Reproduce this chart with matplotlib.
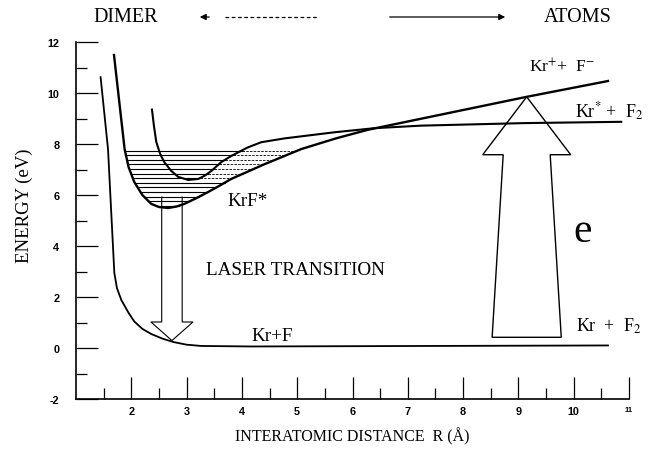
import numpy as np
import matplotlib
matplotlib.use("Agg")
import matplotlib.pyplot as plt
from matplotlib.patches import Polygon
from matplotlib.lines import Line2D

plt.rcParams["font.family"] = ["Liberation Serif", "DejaVu Serif"]
plt.rcParams["mathtext.fontset"] = "stix"
plt.rcParams["axes.unicode_minus"] = False

# potential curves: R in angstrom, energy in eV
# ground state Kr + F
ground_r = [1.445, 1.579, 1.64, 1.693, 1.74, 1.82, 1.95, 2.054, 2.2, 2.361, 2.56, 2.759, 3.0, 3.265, 4.17, 10.62]
ground_e = [10.62, 7.80, 5.2, 2.95, 2.35, 1.88, 1.38, 1.04, 0.75, 0.55, 0.37, 0.235, 0.13, 0.08, 0.06, 0.10]

# ionic KrF* curve, goes to Kr+ + F-
ionic_r = [1.687, 1.78, 1.879, 1.95, 2.054, 2.2, 2.361, 2.5, 2.669, 2.82, 2.958, 3.17, 3.392,
           3.6, 3.807, 4.4, 5.072, 5.7, 6.283, 9.15, 10.62]
ionic_e = [11.49, 9.7, 7.80, 7.1, 6.51, 6.0, 5.65, 5.53, 5.49, 5.55, 5.65, 5.87, 6.12,
           6.37, 6.63, 7.2, 7.80, 8.22, 8.56, 9.85, 10.47]

# covalent curve, goes to Kr* + F2
cov_r = [2.374, 2.41, 2.452, 2.52, 2.596, 2.72, 2.849, 3.03, 3.211, 3.33, 3.446, 3.627, 3.807,
         4.1, 4.35, 4.771, 5.675, 6.398, 7.241, 9.12, 10.86]
cov_e = [9.35, 8.7, 8.08, 7.62, 7.29, 6.95, 6.71, 6.59, 6.63, 6.76, 6.94, 7.29, 7.53,
         7.86, 8.07, 8.22, 8.46, 8.62, 8.72, 8.82, 8.87]

# vibrational levels inside the KrF* well
levels = [7.74, 7.56, 7.38, 7.20, 7.02, 6.84, 6.66, 6.48, 6.30, 6.12, 5.94, 5.76, 5.58]

# laser transition (down) and electron pumping (up)
laser_r, laser_top, laser_tip = 2.735, 5.92, 0.29
pump_r, pump_bottom, pump_tip = 9.15, 0.42, 9.85

xticks = list(range(2, 12))
yticks = list(range(-2, 13, 2))


def wall(r, e, level, side):
    r = np.asarray(r)
    e = np.asarray(e)
    i = int(np.argmin(e))
    if side == "left":
        return np.interp(level, e[:i + 1][::-1], r[:i + 1][::-1])
    return np.interp(level, e[i:], r[i:])


fig = plt.figure(figsize=(6.48, 4.56), dpi=100)
ax = fig.add_axes([76 / 648, 56 / 456, 553 / 648, 357 / 456])

ax.plot(ground_r, ground_e, color="k", lw=1.3)
ax.plot(ionic_r, ionic_e, color="k", lw=1.7)
ax.plot(cov_r, cov_e, color="k", lw=1.5)

cov_min = min(cov_e)
for lev in levels:
    rl = wall(ionic_r, ionic_e, lev, "left")
    rr = wall(ionic_r, ionic_e, lev, "right")
    if lev > cov_min:
        rc = wall(cov_r, cov_e, lev, "right")
        ax.plot([rl, rc], [lev, lev], color="k", lw=0.8)
        ax.plot([rc, rr], [lev, lev], color="k", lw=0.6, ls=(0, (3, 1.5)))
    else:
        ax.plot([rl, rr], [lev, lev], color="k", lw=0.8)

# hollow arrow for the laser transition
half, head, head_len = 0.185, 0.38, 0.73
base = laser_tip + head_len
ax.plot([laser_r - half, laser_r - half, laser_r - head, laser_r, laser_r + head, laser_r + half, laser_r + half],
        [laser_top, base, base, laser_tip, base, base, laser_top], color="k", lw=0.8)

# big hollow pumping arrow
body_bot, body_top, head_w, head_len = 0.625, 0.425, 0.795, 2.27
base = pump_tip - head_len
pump = Polygon([[pump_r - body_bot, pump_bottom], [pump_r - body_top, base], [pump_r - head_w, base],
                [pump_r, pump_tip], [pump_r + head_w, base], [pump_r + body_top, base],
                [pump_r + body_bot, pump_bottom]],
               closed=True, fill=False, edgecolor="k", lw=1.0)
ax.add_patch(pump)

ax.text(4.11, 5.8, "KrF*", fontsize=13.8, ha="center", va="center")
ax.text(4.96, 3.06, "LASER TRANSITION", fontsize=13.8, ha="center", va="center")
ax.text(4.55, 0.5, "Kr+F", fontsize=13.8, ha="center", va="center")
ax.text(10.05, 0.68, "Kr  +  F$_2$", fontsize=13, ha="left", va="baseline", clip_on=False)
ax.text(10.17, 4.59, "e", fontsize=30, ha="center", va="center")
ax.text(9.19, 10.86, "Kr$^{+}$+  F$^{-}$", fontsize=12.5, ha="left", va="baseline")
ax.text(10.02, 9.06, "Kr$^{*}$ +  F$_2$", fontsize=13, ha="left", va="baseline", clip_on=False)

ax.set_xlim(1.0, 11.0)
ax.set_ylim(-2, 12)
ax.set_xticks(xticks)
ax.set_xticks(np.arange(1.5, 11, 1), minor=True)
ax.set_yticks(yticks)
ax.set_yticks(range(-1, 12, 2), minor=True)
ax.set_xticklabels([str(t) for t in xticks])
ax.set_yticklabels([str(t) for t in yticks])
ax.tick_params(which="major", direction="in", length=16, width=0.9)
ax.tick_params(which="minor", direction="in", length=8, width=0.9)
ax.tick_params(axis="y", which="major", pad=12)
ax.tick_params(axis="x", which="major", pad=5)
for lab in ax.get_xticklabels() + ax.get_yticklabels():
    lab.set_fontfamily(["Liberation Sans", "DejaVu Sans"])
    lab.set_fontweight("bold")
    lab.set_fontsize(7.8)
ax.get_xticklabels()[-1].set_fontsize(5.5)

for side in ["top", "right"]:
    ax.spines[side].set_visible(False)
for side in ["left", "bottom"]:
    ax.spines[side].set_linewidth(1.2)

ax.set_xlabel("INTERATOMIC DISTANCE  R (Å)", fontsize=11.5, labelpad=8)
ax.set_ylabel("ENERGY (eV)", fontsize=13.5)
ax.yaxis.set_label_coords(-0.078, (5.6 + 2) / 14)

# header: DIMER <---  ---> ATOMS
fy = 1 - 18 / 456
fig.text(93 / 648, fy, "DIMER", fontsize=14.5, ha="left", va="center")
fig.text(612 / 648, fy, "ATOMS", fontsize=14.5, ha="right", va="center")
fig.add_artist(Line2D([225 / 648, 318 / 648], [fy, fy], transform=fig.transFigure,
                      color="k", lw=0.9, ls=(0, (3, 2))))
ax.annotate("", xy=(197 / 648, fy), xytext=(212 / 648, fy), xycoords="figure fraction",
            arrowprops=dict(arrowstyle="-|>", color="k", lw=0.9, mutation_scale=9))
ax.annotate("", xy=(508 / 648, fy), xytext=(387 / 648, fy), xycoords="figure fraction",
            arrowprops=dict(arrowstyle="-|>", color="k", lw=0.9, mutation_scale=9))

fig.savefig("out.png", dpi=100)
